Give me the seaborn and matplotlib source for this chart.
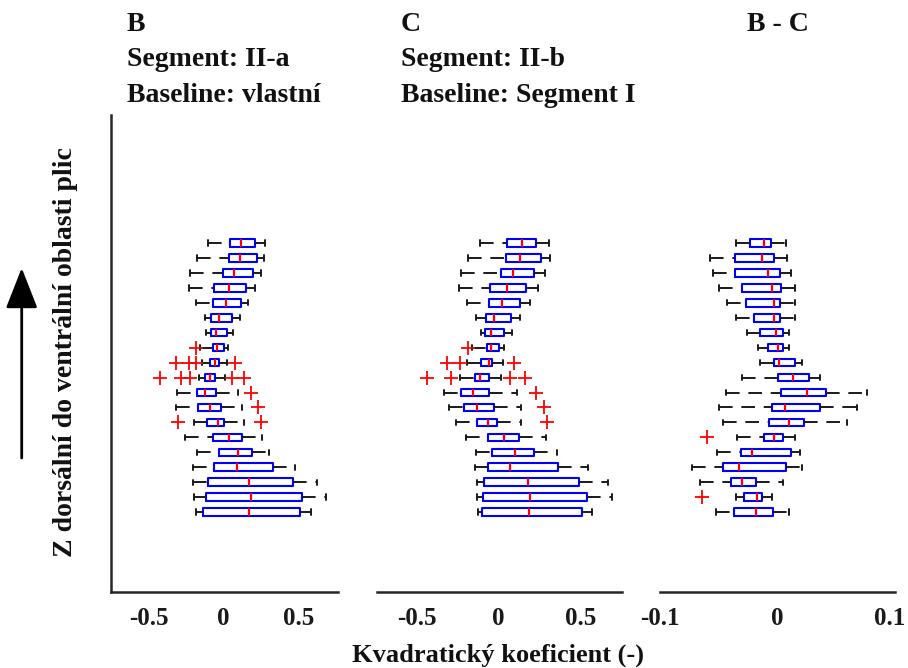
import numpy as np
import matplotlib
matplotlib.use("Agg")
import matplotlib.pyplot as plt
import matplotlib.transforms as mtransforms
from matplotlib.patches import FancyArrowPatch
import seaborn as sns

# Quadratic coefficient distributions per lung level (listed ventral -> dorsal)
# Panel B: Segment II-a, baseline own
b_lo = [-0.108, -0.180, -0.222, -0.228, -0.182, -0.126, -0.115, -0.160, -0.146, -0.166,
        -0.308, -0.315, -0.200, -0.259, -0.175, -0.202, -0.204, -0.200, -0.182]
b_q1 = [0.042, 0.035, -0.007, -0.067, -0.071, -0.084, -0.082, -0.069, -0.091, -0.122,
        -0.178, -0.168, -0.111, -0.069, -0.029, -0.067, -0.106, -0.120, -0.135]
b_med = [0.118, 0.111, 0.071, 0.033, 0.013, -0.033, -0.051, -0.044, -0.055, -0.089,
         -0.122, -0.093, -0.038, 0.038, 0.098, 0.091, 0.166, 0.180, 0.166]
b_q3 = [0.208, 0.222, 0.195, 0.146, 0.113, 0.058, 0.022, 0.002, -0.033, -0.058,
        -0.053, -0.020, 0.002, 0.124, 0.188, 0.326, 0.461, 0.523, 0.506]
b_hi = [0.273, 0.270, 0.248, 0.206, 0.160, 0.106, 0.064, 0.027, 0.020, 0.011,
        0.098, 0.122, 0.133, 0.257, 0.304, 0.472, 0.623, 0.683, 0.581]
b_out = [[], [], [], [], [], [], [], [-0.186], [-0.315, -0.231, -0.186, 0.078],
         [-0.426, -0.286, -0.226, 0.058, 0.133], [0.182], [0.226], [-0.306, 0.246],
         [], [], [], [], [], []]

# Panel C: Segment II-b, baseline Segment I
c_lo = [-0.112, -0.185, -0.232, -0.240, -0.195, -0.136, -0.110, -0.160, -0.191, -0.234,
        -0.331, -0.305, -0.258, -0.197, -0.136, -0.142, -0.134, -0.132, -0.128]
c_q1 = [0.053, 0.043, 0.015, -0.053, -0.057, -0.077, -0.085, -0.069, -0.110, -0.144,
        -0.232, -0.209, -0.132, -0.067, -0.040, -0.065, -0.087, -0.093, -0.099]
c_med = [0.143, 0.130, 0.090, 0.051, 0.021, -0.026, -0.049, -0.045, -0.057, -0.112,
         -0.159, -0.134, -0.067, 0.031, 0.100, 0.069, 0.177, 0.191, 0.183]
c_q3 = [0.224, 0.256, 0.213, 0.169, 0.128, 0.073, 0.035, 0.004, -0.038, -0.059,
        -0.057, -0.028, -0.010, 0.122, 0.212, 0.360, 0.490, 0.537, 0.506]
c_hi = [0.309, 0.315, 0.283, 0.240, 0.191, 0.130, 0.084, 0.033, 0.027, 0.015,
        0.112, 0.136, 0.138, 0.289, 0.356, 0.543, 0.667, 0.691, 0.570]
c_out = [[], [], [], [], [], [], [], [-0.187], [-0.313, -0.236, 0.091],
         [-0.435, -0.293, 0.071, 0.159], [0.224], [0.274], [0.291],
         [], [], [], [], [], []]

# Panel B - C: difference
d_lo = [-0.0349, -0.0576, -0.0553, -0.0494, -0.0434, -0.0349, -0.0261, -0.0168, -0.0153, -0.0304,
        -0.0440, -0.0502, -0.0463, -0.0344, -0.0519, -0.0729, -0.0659, -0.0349, -0.0525]
d_q1 = [-0.0233, -0.0363, -0.0361, -0.0304, -0.0267, -0.0199, -0.0148, -0.0077, -0.0031, 0.0005,
        0.0026, -0.0046, -0.0071, -0.0119, -0.0312, -0.0460, -0.0397, -0.0287, -0.0366]
d_med = [-0.0117, -0.0136, -0.0077, -0.0051, -0.0031, -0.0026, -0.0014, 0.0005, 0.0011, 0.0130,
         0.0249, 0.0068, 0.0096, -0.0029, -0.0221, -0.0329, -0.0298, -0.0176, -0.0179]
d_q3 = [-0.0057, -0.0029, 0.0020, 0.0026, 0.0020, 0.0020, 0.0045, 0.0043, 0.0145, 0.0272,
        0.0417, 0.0360, 0.0224, 0.0048, 0.0116, 0.0071, -0.0185, -0.0131, -0.0037]
d_hi = [0.0073, 0.0077, 0.0116, 0.0147, 0.0150, 0.0150, 0.0102, 0.0096, 0.0207, 0.0360,
        0.0760, 0.0678, 0.0593, 0.0153, 0.0190, 0.0210, 0.0048, -0.0046, 0.0094]
d_out = [[], [], [], [], [], [], [], [], [], [], [], [], [], [-0.0604],
         [], [], [], [-0.0644], []]

title_lines = [["B", "Segment: II-a", "Baseline: vlastní"],
               ["C", "Segment: II-b", "Baseline: Segment I"],
               ["B - C"]]
x_ticks = [[-0.5, 0, 0.5], [-0.5, 0, 0.5], [-0.1, 0, 0.1]]
x_ticklabels = [["-0.5", "0", "0.5"], ["-0.5", "0", "0.5"], ["-0.1", "0", "0.1"]]
x_limits = [(-0.75, 0.76), (-0.74, 0.75), (-0.1, 0.1)]
x_label = "Kvadratický koeficient (-)"
y_label = "Z dorsální do ventrální oblasti plic"

sns.set_style("white")
plt.rcParams["font.family"] = ["Liberation Serif", "DejaVu Serif"]
plt.rcParams["font.weight"] = "bold"

W, H = 908, 668
fig = plt.figure(figsize=(W / 100, H / 100), dpi=100)

panel_px = [(111, 227), (377, 245), (660, 235)]
ax_top, ax_bot = 115, 592
axes = [fig.add_axes([l / W, 1 - ax_bot / H, w / W, (ax_bot - ax_top) / H]) for l, w in panel_px]

panels = [
    (b_lo, b_q1, b_med, b_q3, b_hi, b_out),
    (c_lo, c_q1, c_med, c_q3, c_hi, c_out),
    (d_lo, d_q1, d_med, d_q3, d_hi, d_out),
]

for i, (ax, (lo, q1, med, q3, hi, out)) in enumerate(zip(axes, panels)):
    n = len(med)
    positions = np.arange(n, 0, -1)
    stats = [dict(whislo=lo[k], q1=q1[k], med=med[k], q3=q3[k], whishi=hi[k],
                  fliers=np.array(out[k])) for k in range(n)]
    bp = ax.bxp(stats, positions=positions, orientation="horizontal", widths=0.5,
                capwidths=0.35, showfliers=True, patch_artist=False,
                boxprops=dict(color="#0000FF", linewidth=1.5),
                medianprops=dict(color="#FF0000", linewidth=1.6),
                whiskerprops=dict(color="#1a1a1a", linewidth=1.4, linestyle=(0, (7, 4.5))),
                capprops=dict(color="#1a1a1a", linewidth=1.4),
                flierprops=dict(marker="+", markeredgecolor="#FF0000", markersize=10,
                                markeredgewidth=1.3, linestyle="none"))
    # lower whiskers start their dash pattern at the cap
    for w in bp["whiskers"][::2]:
        w.set_xdata(w.get_xdata()[::-1])

    ax.set_ylim(-4.35, 27.57)
    ax.set_xlim(*x_limits[i])
    ax.set_xticks(x_ticks[i])
    ax.set_xticklabels(x_ticklabels[i])
    ax.set_yticks([])
    ax.tick_params(axis="x", direction="in", length=5, width=1.5, color="#262626",
                   labelsize=18, pad=11, labelcolor="#1a1a1a")
    for lab in ax.get_xticklabels():
        lab.set_fontweight("bold")
    ax.set_facecolor("none")
    sns.despine(ax=ax, top=True, right=True, left=(i != 0))
    for s in ["bottom", "left"]:
        ax.spines[s].set_linewidth(1.8)
        ax.spines[s].set_color("#262626")

# keep the last tick label of the right panel inside the canvas
last = axes[2].get_xticklabels()[-1]
last.set_transform(last.get_transform() +
                   mtransforms.ScaledTranslation(-5 / 100, 0, fig.dpi_scale_trans))

# Panel titles, one text per line
line_baselines = [31, 66.5, 102]
for x0, lines in zip([127, 401], title_lines[:2]):
    for txt, yb in zip(lines, line_baselines):
        fig.text(x0 / W, 1 - yb / H, txt, ha="left", va="baseline", fontsize=20,
                 fontweight="bold", color="#111111")
fig.text(778 / W, 1 - line_baselines[0] / H, title_lines[2][0], ha="center",
         va="baseline", fontsize=20, fontweight="bold", color="#111111")

# Axis labels
fig.text(498.5 / W, 1 - 655 / H, x_label, ha="center", va="center", fontsize=19,
         fontweight="bold", color="#111111")
fig.text(66 / W, 1 - 352 / H, y_label, ha="center", va="center", rotation=90,
         fontsize=20, fontweight="bold", color="#111111")

# Direction arrow (dorsal -> ventral)
arrow = FancyArrowPatch((21.7 / W, 1 - 458 / H), (21.7 / W, 1 - 268 / H),
                        transform=fig.transFigure,
                        arrowstyle="-|>,head_length=1.4,head_width=0.55",
                        mutation_scale=18, color="black", linewidth=2.0,
                        shrinkA=0, shrinkB=0)
fig.add_artist(arrow)

fig.savefig("out.png", dpi=100)
